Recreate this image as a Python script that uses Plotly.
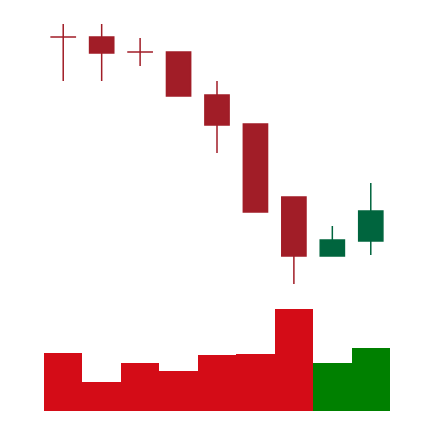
import plotly.graph_objects as go

days = ["D1", "D2", "D3", "D4", "D5", "D6", "D7", "D8", "D9"]
opens = [74.7, 74.7, 73.2, 73.2, 68.9, 66.0, 58.7, 52.8, 54.3]
highs = [76.0, 76.0, 74.6, 73.2, 70.3, 66.0, 58.7, 55.8, 60.1]
lows = [70.3, 70.3, 71.8, 68.8, 63.1, 57.2, 50.0, 52.8, 52.9]
closes = [74.69, 73.1, 73.19, 68.8, 65.9, 57.2, 52.8, 54.4, 57.3]
volumes = [5800, 2900, 4800, 4000, 5600, 5700, 10200, 4800, 6300]
vol_colors = ["#d40c17"] * 7 + ["#008000"] * 2

fig = go.Figure()
fig.add_trace(go.Bar(
    x=days, y=volumes, marker=dict(color=vol_colors, line=dict(width=0)),
    yaxis="y2", showlegend=False, width=1.0,
))
fig.add_trace(go.Candlestick(
    x=days, open=opens, high=highs, low=lows, close=closes,
    increasing=dict(line=dict(color="#00653e", width=1.5), fillcolor="#00653e"),
    decreasing=dict(line=dict(color="#a11d27", width=1.5), fillcolor="#a11d27"),
    showlegend=False,
))
fig.update_layout(
    width=434, height=422,
    margin=dict(l=44, r=44, t=10, b=11),
    paper_bgcolor="white", plot_bgcolor="white",
    bargap=0, boxgap=0.1,
    xaxis=dict(visible=False, rangeslider=dict(visible=False), type="category",
               range=[-0.5, 8.5]),
    yaxis=dict(visible=False, range=[37.3, 77.4]),
    yaxis2=dict(visible=False, range=[0, 40100], overlaying="y"),
)
fig.write_html("out.html")
